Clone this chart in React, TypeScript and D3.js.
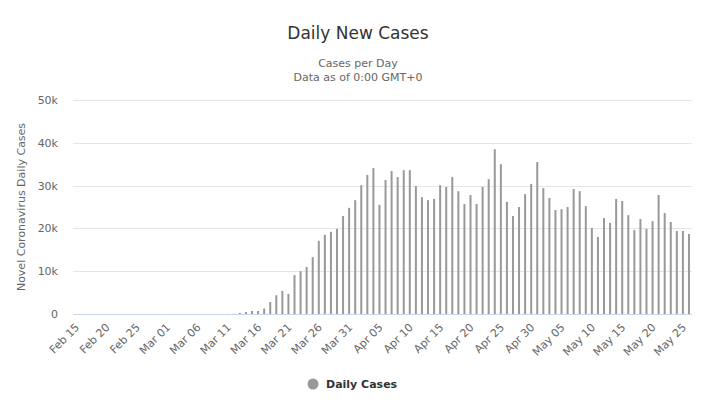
import { useEffect, useRef } from "react"
import * as d3 from "d3"

// Daily new cases, Feb 15 .. May 26 (one value per day)
const dailyCases = [
  0, 0, 0, 0, 0, 0, 0, 0, 0, 1, 0, 0, 1, 1, 0,
  3, 5, 6, 5, 8, 10, 12, 15, 18, 22, 26, 30,
  250, 450, 700, 700, 1300, 2800, 4400, 5400, 4700, 9100,
  10000, 11000, 13300, 17100, 18500, 19200, 19900, 22900, 24800, 26600,
  30100, 32500, 34100, 25500, 31300, 33400, 32000, 33600, 33600, 29900,
  27300, 26600, 26900, 30100, 29700, 32000, 28700, 25700, 27800, 25700,
  29700, 31500, 38500, 35000, 26200, 22900, 25000, 28000, 30400, 35500,
  29400, 27100, 24300, 24500, 25000, 29200, 28700, 25200, 20100, 18000,
  22400, 21300, 26900, 26400, 23100, 19600, 22200, 19900, 21700, 27800,
  23600, 21500, 19400, 19400, 18700,
]

const startDay = new Date(2020, 1, 15)
const categories = d3.timeDay
  .range(startDay, d3.timeDay.offset(startDay, dailyCases.length))
  .map((d) => d3.timeFormat("%b %d")(d))

const yTicks = [0, 10000, 20000, 30000, 40000, 50000]
const labelEvery = 5

const titleText = "Daily New Cases"
const subtitleLines = ["Cases per Day", "Data as of 0:00 GMT+0"]
const yTitle = "Novel Coronavirus Daily Cases"
const seriesName = "Daily Cases"

export default function App() {
  const svgRef = useRef<SVGSVGElement>(null)

  useEffect(() => {
    if (!svgRef.current) return
    const width = 716
    const height = 410
    const font = "'DejaVu Sans', sans-serif"

    const svg = d3.select(svgRef.current)
    svg.selectAll("*").remove()
    svg.attr("width", width).attr("height", height).style("font-family", font)

    const left = 73
    const right = 692
    const top = 100
    const bottom = 314

    const x = d3.scaleBand<string>().domain(categories).range([left, right])
    const y = d3.scaleLinear().domain([0, 50000]).range([bottom, top])

    // titles
    svg.append("text")
      .attr("x", width / 2).attr("y", 39)
      .attr("text-anchor", "middle")
      .style("font-size", "17px").style("fill", "#333333")
      .text(titleText)
    subtitleLines.forEach((t, i) => {
      svg.append("text")
        .attr("x", width / 2).attr("y", 67 + i * 14)
        .attr("text-anchor", "middle")
        .style("font-size", "11px").style("fill", "#666666")
        .text(t)
    })

    // grid + y labels
    const grid = svg.append("g")
    yTicks.forEach((t) => {
      if (t > 0) {
        grid.append("line")
          .attr("x1", left).attr("x2", right)
          .attr("y1", Math.round(y(t)) + 0.5).attr("y2", Math.round(y(t)) + 0.5)
          .style("stroke", "#e6e6e6")
      }
      grid.append("text")
        .attr("x", 58).attr("y", y(t) + 4)
        .attr("text-anchor", "end")
        .style("font-size", "11px").style("fill", "#666666")
        .text(t === 0 ? "0" : d3.format("~s")(t))
    })

    svg.append("text")
      .attr("transform", `translate(25,${(top + bottom) / 2}) rotate(-90)`)
      .attr("text-anchor", "middle")
      .style("font-size", "11px").style("fill", "#666666")
      .text(yTitle)

    // bars
    svg.append("g")
      .selectAll("rect")
      .data(dailyCases)
      .enter()
      .append("rect")
      .attr("x", (_, i) => (x(categories[i]) ?? 0) + x.bandwidth() / 2 - 1)
      .attr("width", 2)
      .attr("y", (d) => y(d))
      .attr("height", (d) => bottom - y(d))
      .style("fill", "#999999")

    // x axis
    svg.append("line")
      .attr("x1", left).attr("x2", right)
      .attr("y1", bottom + 0.5).attr("y2", bottom + 0.5)
      .style("stroke", "#ccd6eb")

    categories.forEach((c, i) => {
      if (i % labelEvery !== 0) return
      const cx = (x(c) ?? 0) + x.bandwidth() / 2
      svg.append("text")
        .attr("transform", `translate(${cx + 4},${bottom + 14}) rotate(-45)`)
        .attr("text-anchor", "end")
        .style("font-size", "11px").style("fill", "#666666")
        .text(c)
    })

    // legend
    svg.append("circle")
      .attr("cx", 313).attr("cy", 384).attr("r", 5.5)
      .style("fill", "#999999")
    svg.append("text")
      .attr("x", 326).attr("y", 388)
      .style("font-size", "11px").style("font-weight", "bold").style("fill", "#333333")
      .text(seriesName)
  }, [])

  return <svg ref={svgRef} style={{ display: "block", position: "absolute", left: 0, top: 0 }} />
}
